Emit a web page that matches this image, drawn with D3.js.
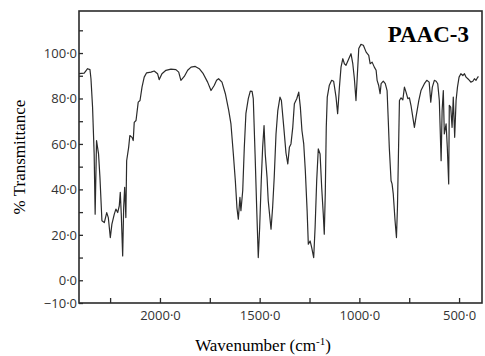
<!DOCTYPE html>
<html>
<head>
<meta charset="utf-8">
<script src="https://cdn.jsdelivr.net/npm/d3@7"></script>
<style>
	body { margin: 0; background: #fff; }
</style>
</head>
<body>
<div id="spectrum"></div>
<script>
// wavenumber (cm-1) and % transmittance
const wavenumber = [2406, 2380, 2363, 2351, 2346, 2338, 2330, 2325, 2318, 2313, 2308, 2301, 2291, 2279, 2267, 2259, 2249, 2241, 2229, 2221,
	2212, 2204, 2199, 2194, 2187, 2182, 2177, 2171, 2167, 2157, 2151, 2140, 2134, 2129, 2120, 2109, 2100, 2090, 2079, 2067,
	2045, 2029, 2012, 2004, 1990, 1970, 1945, 1920, 1906, 1895, 1878, 1861, 1844, 1823, 1803, 1783, 1761, 1744, 1728, 1716,
	1706, 1689, 1672, 1655, 1644, 1632, 1622, 1614, 1607, 1599, 1594, 1585, 1577, 1569, 1557, 1547, 1538, 1532, 1523, 1515,
	1507, 1500, 1492, 1485, 1478, 1472, 1463, 1457, 1448, 1443, 1435, 1427, 1418, 1409, 1398, 1391, 1379, 1368, 1359, 1351,
	1343, 1334, 1326, 1314, 1304, 1296, 1288, 1279, 1271, 1262, 1256, 1247, 1239, 1229, 1222, 1214, 1206, 1197, 1189, 1181,
	1176, 1171, 1166, 1161, 1151, 1139, 1129, 1117, 1109, 1100, 1092, 1083, 1075, 1067, 1053, 1042, 1033, 1025, 1017, 1003,
	992, 980, 966, 953, 946, 936, 925, 916, 911, 903, 896, 891, 880, 870, 861, 855, 850, 841, 836, 830,
	821, 814, 809, 804, 799, 791, 782, 774, 766, 757, 749, 741, 732, 724, 716, 702, 691, 674, 662, 650,
	642, 634, 624, 615, 607, 599, 590, 585, 579, 574, 565, 559, 552, 549, 542, 535, 529, 522, 515, 508,
	500, 491, 481, 473, 465, 456, 448, 441, 431, 423, 415, 408, 403];
const transmittance = [90.9, 91.2, 93.1, 92.7, 88.7, 76.2, 55.6, 29.1, 61.5, 58.5, 55.6, 45.3, 26.2, 25.4, 29.8, 27.6, 18.8, 24.7, 29.1, 31.3,
	29.8, 32.8, 38.7, 29.1, 10.7, 32.0, 40.9, 27.6, 52.6, 58.5, 63.7, 62.9, 61.5, 69.5, 70.3, 78.4, 79.1, 85.0, 89.4, 91.3,
	91.6, 92.1, 90.9, 88.3, 90.9, 92.4, 92.9, 92.7, 91.6, 88.0, 89.7, 92.4, 93.8, 94.1, 93.1, 90.9, 87.2, 83.5, 85.7, 88.0,
	88.7, 87.2, 82.1, 74.7, 68.8, 55.6, 43.8, 32.0, 26.9, 36.5, 30.6, 39.4, 58.5, 73.3, 79.9, 83.2, 83.1, 79.9, 55.6, 32.0,
	10.0, 23.2, 43.8, 58.5, 68.1, 55.6, 45.3, 35.0, 26.9, 22.5, 32.0, 45.3, 64.4, 74.7, 80.6, 79.1, 67.3, 56.0, 51.2, 58.5,
	60.0, 67.3, 77.7, 79.9, 82.8, 76.2, 65.9, 60.0, 48.2, 30.6, 15.9, 17.3, 14.4, 10.0, 23.2, 43.8, 57.8, 55.6, 40.9, 29.1,
	20.3, 38.0, 67.3, 80.6, 85.7, 88.0, 87.6, 80.6, 73.3, 85.0, 93.8, 97.5, 95.3, 94.6, 97.5, 99.7, 95.3, 88.7, 79.1, 102.0,
	103.8, 103.4, 100.4, 99.0, 95.3, 96.0, 93.8, 92.4, 88.0, 85.7, 82.1, 86.5, 87.6, 86.5, 83.5, 70.3, 58.5, 43.8, 42.4, 38.0,
	26.2, 18.8, 32.0, 55.6, 79.1, 80.3, 79.4, 85.0, 82.8, 79.9, 80.3, 76.9, 71.8, 67.3, 71.8, 79.1, 83.5, 86.5, 88.0, 87.2,
	78.4, 85.0, 88.0, 87.6, 86.5, 79.1, 52.6, 74.7, 83.5, 64.4, 68.8, 58.5, 42.4, 77.0, 76.2, 67.3, 80.6, 62.9, 79.1, 85.0,
	89.4, 90.9, 90.1, 90.9, 89.4, 88.7, 88.0, 87.2, 87.6, 88.7, 88.0, 89.1, 89.7];

const xTicks = [2250, 2000, 1750, 1500, 1250, 1000, 750, 500];
const xLabels = [2000, 1500, 1000, 500];
const yTicks = [-10, 0, 10, 20, 30, 40, 50, 60, 70, 80, 90, 100, 110];
const yLabels = [-10, 0, 20, 40, 60, 80, 100];

drawspectrum()

function drawspectrum() {
	const width = 485;
	const height = 356;
	const left = 79, right = 482, top = 11, bottom = 303;
	const ink = "#2b2b2b";

	const svg = d3.select("#spectrum")
		.append("svg")
		.attr("width", width)
		.attr("height", height);

	const x = d3.scaleLinear()
		.domain([2406, 385])
		.range([left, right]);
	const y = d3.scaleLinear()
		.domain([-10, 118.5])
		.range([bottom, top]);

	// tick labels use a raised decimal point, e.g. 100·0
	const fmt = d => d3.format(".1f")(d).replace(".", "·");

	const xAxis = svg.append("g")
		.attr("transform", `translate(0,${bottom})`)
		.call(d3.axisBottom(x)
			.tickValues(xTicks)
			.tickSize(-5)
			.tickPadding(8)
			.tickFormat(d => xLabels.includes(d) ? fmt(d) : ""));

	const yAxis = svg.append("g")
		.attr("transform", `translate(${left},0)`)
		.call(d3.axisLeft(y)
			.tickValues(yTicks)
			.tickSize(-4)
			.tickPadding(2)
			.tickFormat(d => yLabels.includes(d) ? fmt(d) : ""));

	svg.selectAll(".domain").remove();
	svg.selectAll(".tick line")
		.attr("stroke", ink)
		.attr("stroke-width", 1.3);
	svg.selectAll(".tick text")
		.attr("fill", "#333")
		.style("font-family", "Open Sans")
		.style("font-size", "13px");

	// frame
	svg.append("rect")
		.attr("x", left)
		.attr("y", top)
		.attr("width", right - left)
		.attr("height", bottom - top)
		.attr("fill", "none")
		.attr("stroke", ink)
		.attr("stroke-width", 1.6);

	const line = d3.line()
		.x((d, i) => x(wavenumber[i]))
		.y(d => y(d));

	svg.append("path")
		.datum(transmittance)
		.attr("d", line)
		.attr("fill", "none")
		.attr("stroke", ink)
		.attr("stroke-width", 1.2)
		.attr("stroke-linejoin", "round");

	svg.append("text")
		.attr("x", 469)
		.attr("y", 42)
		.attr("text-anchor", "end")
		.style("font-family", "Liberation Serif")
		.style("font-weight", "bold")
		.style("font-size", "23px")
		.text("PAAC-3");

	svg.append("text")
		.attr("transform", `translate(25,157) rotate(-90)`)
		.attr("text-anchor", "middle")
		.style("font-family", "Liberation Serif")
		.style("font-size", "17px")
		.text("% Transmittance");

	const xl = svg.append("text")
		.attr("x", 263)
		.attr("y", 351)
		.attr("text-anchor", "middle")
		.style("font-family", "Liberation Serif")
		.style("font-size", "17px")
		.text("Wavenumber (cm");
	xl.append("tspan")
		.attr("dy", -6)
		.style("font-size", "11px")
		.text("-1");
	xl.append("tspan")
		.attr("dy", 6)
		.text(")");
}
</script>
</body>
</html>
